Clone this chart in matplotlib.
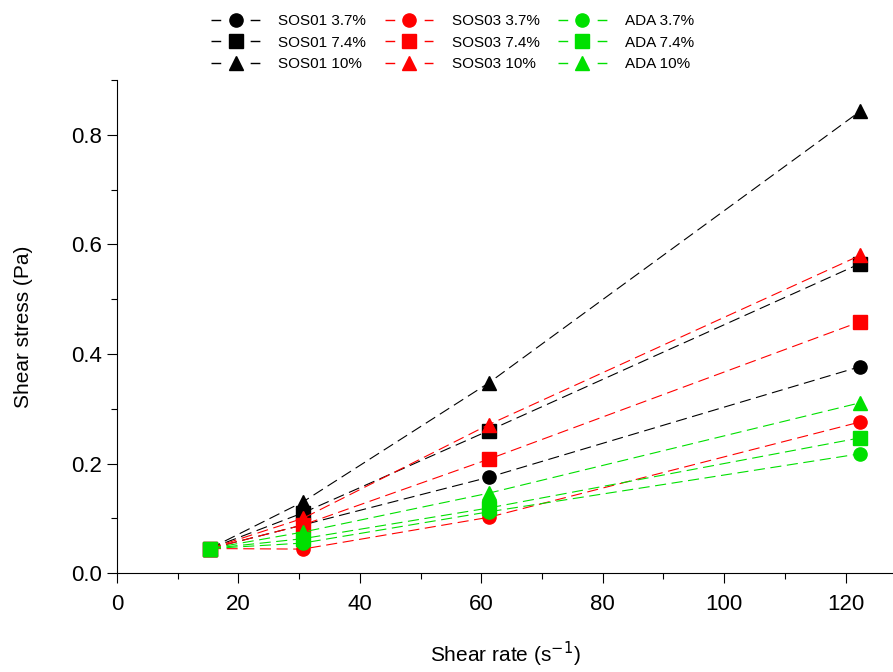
import matplotlib
matplotlib.use('Agg')
import matplotlib.pyplot as plt
from matplotlib.lines import Line2D
from matplotlib.ticker import MultipleLocator

plt.rcParams['font.family'] = ['Liberation Sans', 'DejaVu Sans']

# shear rate (1/s)
shear_rate = [15.3, 30.6, 61.2, 122.4]

# shear stress (Pa) per sample
sos01_37 = [0.045, 0.088, 0.175, 0.377]
sos01_74 = [0.045, 0.110, 0.260, 0.565]
sos01_10 = [0.045, 0.130, 0.347, 0.843]
sos03_37 = [0.045, 0.044, 0.102, 0.276]
sos03_74 = [0.045, 0.088, 0.208, 0.459]
sos03_10 = [0.045, 0.100, 0.271, 0.580]
ada_37 = [0.045, 0.055, 0.112, 0.218]
ada_74 = [0.045, 0.063, 0.119, 0.247]
ada_10 = [0.045, 0.075, 0.146, 0.311]

series = [
    ('SOS01 3.7%', sos01_37, 'black', 'o'),
    ('SOS01 7.4%', sos01_74, 'black', 's'),
    ('SOS01 10%', sos01_10, 'black', '^'),
    ('SOS03 3.7%', sos03_37, '#ff0000', 'o'),
    ('SOS03 7.4%', sos03_74, '#ff0000', 's'),
    ('SOS03 10%', sos03_10, '#ff0000', '^'),
    ('ADA 3.7%', ada_37, '#00e000', 'o'),
    ('ADA 7.4%', ada_74, '#00e000', 's'),
    ('ADA 10%', ada_10, '#00e000', '^'),
]

fig = plt.figure(figsize=(8.93, 6.72), dpi=100)
ax = fig.add_axes([0.131, 0.147, 0.869, 0.734])

handles = []
for label, vals, color, marker in series:
    ax.plot(shear_rate, vals, color=color, marker=marker, markersize=9.5,
            linestyle=(0, (10, 5)), linewidth=0.8)
    # legend proxy: dash, gap, marker, gap, dash
    handles.append(Line2D([], [], color=color, marker=marker, markersize=9.5,
                          linestyle=(0, (7, 21.2)), linewidth=1.0, label=label))

ax.set_xlim(0, 127.8)
ax.set_ylim(0, 0.9)
ax.xaxis.set_major_locator(MultipleLocator(20))
ax.xaxis.set_minor_locator(MultipleLocator(10))
ax.yaxis.set_major_locator(MultipleLocator(0.2))
ax.yaxis.set_minor_locator(MultipleLocator(0.1))
ax.set_xticks(range(0, 121, 20))
ax.yaxis.set_major_formatter(matplotlib.ticker.FormatStrFormatter('%.1f'))

ax.spines['top'].set_visible(False)
ax.spines['right'].set_visible(False)
ax.tick_params(which='major', direction='out', length=7, width=0.8, labelsize=16)
ax.tick_params(which='minor', direction='out', length=4, width=0.8)
ax.tick_params(axis='x', which='major', pad=8)

ax.set_xlabel('Shear rate (s$^{-1}$)', fontsize=15, labelpad=18)
ax.set_ylabel('Shear stress (Pa)', fontsize=15, labelpad=28)

fig.legend(handles=handles, loc='upper center', bbox_to_anchor=(0.507, 0.995), ncol=3,
           frameon=False, fontsize=11, handlelength=3.2, handletextpad=1.2,
           columnspacing=1.2, labelspacing=0.5, borderaxespad=0.3)

fig.savefig('out.png', dpi=100)
